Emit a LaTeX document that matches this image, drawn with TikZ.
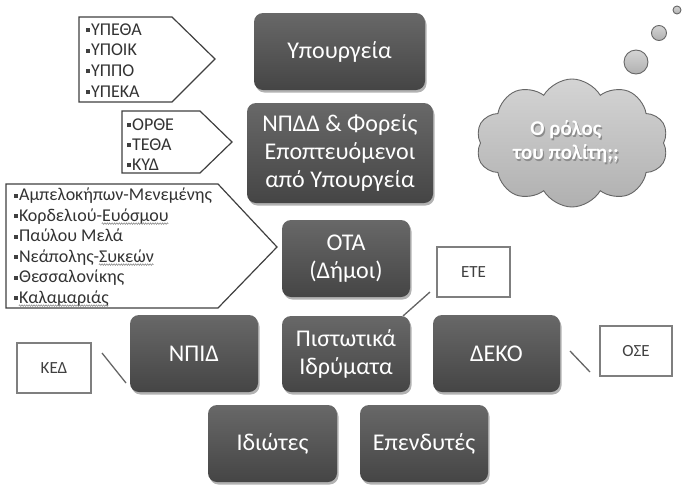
\documentclass[tikz,border=0pt]{standalone}
\usepackage{fontspec}
\setmainfont{Carlito}
\usetikzlibrary{shapes.symbols,shadows,decorations.pathmorphing}
\definecolor{boxtop}{HTML}{686868}
\definecolor{boxbot}{HTML}{454545}
\definecolor{edgec}{HTML}{404040}
\definecolor{wedgec}{HTML}{7F7F7F}
\definecolor{cloudtop}{HTML}{D4D4D4}
\definecolor{cloudbot}{HTML}{B0B0B0}
\newcommand\bul{\raisebox{3pt}{\textcolor{edgec}{\rule{3.6pt}{3.6pt}}}\hspace{1.3pt}}
\newcommand\squig[1]{\setbox0\hbox{#1}\usebox0\llap{\raisebox{-2.6pt}{\tikz[baseline=0pt]\draw[black!50,line width=0.5pt,decorate,decoration={snake,amplitude=0.8pt,segment length=2.4pt}] (0pt,0pt)--(\wd0,0pt);}}}
\tikzset{
 darkbox/.style={rounded corners=9pt, top color=boxtop, bottom color=boxbot, draw=none, text=white, align=center,
   font=\fontsize{24}{28}\selectfont, inner sep=2pt,
   drop shadow={shadow xshift=1.5pt, shadow yshift=-2.5pt, opacity=0.3, fill=black}},
 whitebox/.style={draw=wedgec, line width=1.4pt, fill=white, text=black!75, font=\fontsize{17}{20}\selectfont},
 calltext/.style={anchor=base west, inner sep=0pt, text=black!80, font=\fontsize{18}{21}\selectfont},
 callout/.style={draw=edgec, line width=1.2pt, fill=white},
 link/.style={draw=edgec!80, line width=1.3pt},
 bubble/.style={draw=black!60, line width=0.9pt, top color=cloudtop, bottom color=cloudbot}
}
\begin{document}
\begin{tikzpicture}[x=1pt,y=-1pt]
\useasboundingbox[fill=white] (0,0) rectangle (697,496);
% callout pentagons
\draw[callout] (79,17)--(172,17)--(215,59)--(172,102)--(79,102)--cycle;
\draw[callout] (122,111)--(200,111)--(232,142)--(200,173)--(122,173)--cycle;
\draw[callout] (6,184)--(218,184)--(277,247)--(218,308)--(6,308)--cycle;
\node[calltext] (a1) at (86,35) {\bul ΥΠΕΘΑ};
\node[calltext] (a2) at (86,55.5) {\bul ΥΠΟΙΚ};
\node[calltext] (a3) at (86,76) {\bul ΥΠΠΟ};
\node[calltext] (a4) at (86,97) {\bul ΥΠΕΚΑ};
\node[calltext] (b1) at (127,130) {\bul ΟΡΘΕ};
\node[calltext] (b2) at (127,150) {\bul ΤΕΘΑ};
\node[calltext] (b3) at (127,170) {\bul ΚΥΔ};
\node[calltext] (c1) at (14,200.5) {\bul Αμπελοκήπων-Μενεμένης};
\node[calltext] (c2) at (14,221) {\bul Κορδελιού-\squig{Ευόσμου}};
\node[calltext] (c3) at (14,241.5) {\bul Παύλου Μελά};
\node[calltext] (c4) at (14,262) {\bul Νεάπολης-\squig{Συκεών}};
\node[calltext] (c5) at (14,282.5) {\bul Θεσσαλονίκης};
\node[calltext] (c6) at (14,303) {\bul \squig{Καλαμαριάς}};
% dark boxes
\node[darkbox, minimum width=171pt, minimum height=77pt] (min) at (339.5,51.5) {Υπουργεία};
\node[darkbox, minimum width=186pt, minimum height=100pt] (npdd) at (340,153) {ΝΠΔΔ \& Φορείς\\Εποπτευόμενοι\\από Υπουργεία};
\node[darkbox, minimum width=128pt, minimum height=77pt] (ota) at (346,258.5) {ΟΤΑ\\(Δήμοι)};
\node[darkbox, minimum width=128pt, minimum height=76pt] (pist) at (346,354) {Πιστωτικά\\Ιδρύματα};
\node[darkbox, minimum width=127pt, minimum height=77pt] (deko) at (496.5,353.5) {ΔΕΚΟ};
\node[darkbox, minimum width=128pt, minimum height=77pt] (npid) at (194,353.5) {ΝΠΙΔ};
\node[darkbox, minimum width=129pt, minimum height=77pt] (idiot) at (272.5,443.5) {Ιδιώτες};
\node[darkbox, minimum width=128pt, minimum height=77pt] (epend) at (424,443.5) {Επενδυτές};
% white boxes
\node[whitebox, minimum width=73pt, minimum height=50pt] (ete) at (473.5,272) {ΕΤΕ};
\node[whitebox, minimum width=72pt, minimum height=50pt] (ose) at (636,351) {ΟΣΕ};
\node[whitebox, minimum width=74pt, minimum height=50pt] (ked) at (54,368) {ΚΕΔ};
\coordinate (e1) at (430,292); \coordinate (e2) at (403,316);
\coordinate (o1) at (570,351); \coordinate (o2) at (590,372);
\coordinate (k1) at (102,353); \coordinate (k2) at (126,383);
\draw[link] (e1)--(e2);
\draw[link] (o1)--(o2);
\draw[link] (k1)--(k2);
% thought cloud
\node[cloud, cloud puffs=10, cloud puff arc=120, aspect=1.5, bubble, minimum width=192pt, minimum height=128pt] (cloud) at (572,143) {};
\path[bubble] (636,62) circle (12);
\path[bubble] (659,33) circle (7.5);
\path[bubble] (677,10) circle (4);
\node[align=center, text=black!45, font=\bfseries\fontsize{21}{24}\selectfont] (cts) at (567.2,143.2) {Ο ρόλος\\του πολίτη;;};
\node[align=center, text=white, font=\bfseries\fontsize{21}{24}\selectfont] (ct) at (566,142) {Ο ρόλος\\του πολίτη;;};
\end{tikzpicture}
\end{document}
